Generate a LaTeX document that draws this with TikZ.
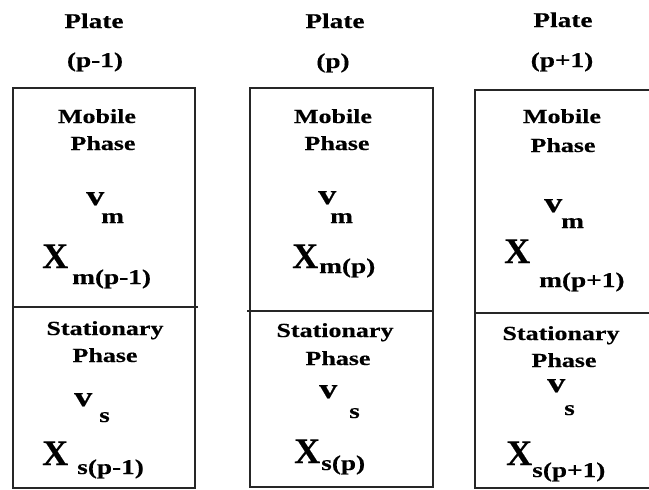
\documentclass[tikz,border=0pt]{standalone}
\usepackage{fontspec}
\setmainfont{Liberation Serif}
\newfontfamily\wf[FakeStretch=1.3,FakeBold=0.4]{Liberation Serif}
\newfontfamily\xf[FakeBold=0.4]{Liberation Serif}
\begin{document}
\begin{tikzpicture}[x=1pt,y=-1pt,
  frame/.style={line width=1.6pt,draw=black!85},
  ttl/.style={inner sep=0,anchor=base,font=\wf\bfseries\fontsize{21}{24}\selectfont},
  lbl/.style={inner sep=0,anchor=base,font=\wf\bfseries\fontsize{20}{24}\selectfont},
  vv/.style={inner sep=0,anchor=base west,font=\wf\bfseries\fontsize{28}{30}\selectfont},
  xx/.style={inner sep=0,anchor=base west,font=\xf\bfseries\fontsize{36}{40}\selectfont},
  sub/.style={inner sep=0,anchor=base west,font=\wf\bfseries\fontsize{21}{24}\selectfont}]
\useasboundingbox (0,0) rectangle (649,490);
% boxes
\draw[frame] (13,88) rectangle (195,488);
\draw[frame] (13,307) -- (198,307);
\draw[frame] (250,88) rectangle (433,487);
\draw[frame] (247,311) -- (433,311);
\draw[frame] (650,90) -- (475,90) -- (475,488) -- (650,488);
\draw[frame] (475,313) -- (650,313);
% plate 1
\node[ttl] (p1a) at (94,28) {Plate};
\node[ttl] (p1b) at (95,67) {(p-1)};
\node[lbl] (m1a) at (97,123) {Mobile};
\node[lbl] (m1b) at (103,150) {Phase};
\node[vv] (v1m) at (86,205) {v};
\node[sub] (v1ms) at (101,223) {m};
\node[xx] (x1m) at (42,268) {X};
\node[sub] (x1ms) at (72,284) {m(p-1)};
\node[lbl] (s1a) at (105,335) {Stationary};
\node[lbl] (s1b) at (105,362) {Phase};
\node[vv] (v1s) at (74,406) {v};
\node[sub] (v1ss) at (99,422) {s};
\node[xx] (x1s) at (42,465) {X};
\node[sub] (x1ss) at (77,474) {s(p-1)};
% plate 2
\node[ttl] (p2a) at (335,28) {Plate};
\node[ttl] (p2b) at (333,68) {(p)};
\node[lbl] (m2a) at (333,123) {Mobile};
\node[lbl] (m2b) at (337,150) {Phase};
\node[vv] (v2m) at (318,204) {v};
\node[sub] (v2ms) at (330,223) {m};
\node[xx] (x2m) at (292,268) {X};
\node[sub] (x2ms) at (319,273) {m(p)};
\node[lbl] (s2a) at (335,337) {Stationary};
\node[lbl] (s2b) at (338,365) {Phase};
\node[vv] (v2s) at (319,398) {v};
\node[sub] (v2ss) at (349,418) {s};
\node[xx] (x2s) at (294,463) {X};
\node[sub] (x2ss) at (321,470) {s(p)};
% plate 3
\node[ttl] (p3a) at (563,27) {Plate};
\node[ttl] (p3b) at (562,67) {(p+1)};
\node[lbl] (m3a) at (562,123) {Mobile};
\node[lbl] (m3b) at (563,152) {Phase};
\node[vv] (v3m) at (544,212) {v};
\node[sub] (v3ms) at (561,228) {m};
\node[xx] (x3m) at (504,263) {X};
\node[sub] (x3ms) at (539,287) {m(p+1)};
\node[lbl] (s3a) at (561,340) {Stationary};
\node[lbl] (s3b) at (564,367) {Phase};
\node[vv] (v3s) at (547,392) {v};
\node[sub] (v3ss) at (564,415) {s};
\node[xx] (x3s) at (506,465) {X};
\node[sub] (x3ss) at (532,477) {s(p+1)};
\end{tikzpicture}
\end{document}
